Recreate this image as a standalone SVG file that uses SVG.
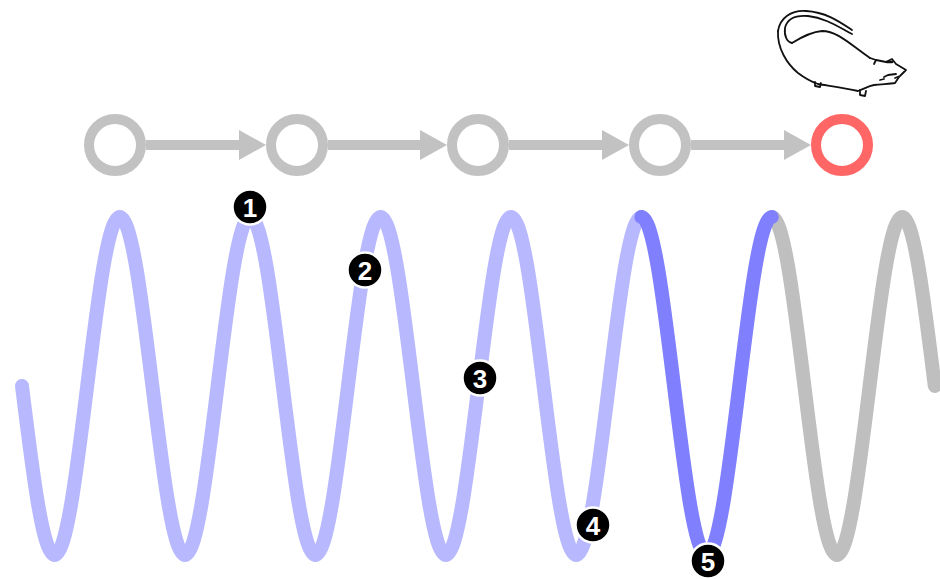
<svg xmlns="http://www.w3.org/2000/svg" width="940" height="579" viewBox="0 0 940 579">
  <style>
    .ring { fill: #ffffff; stroke: #c2c2c2; stroke-width: 10; }
    .ring.goal { stroke: #ff6666; }
    .link { stroke: #c2c2c2; stroke-width: 10; fill: none; }
    .head { fill: #c2c2c2; }
    .wave { fill: none; stroke-width: 14; stroke-linecap: round; stroke-linejoin: round; }
    .w-light { stroke: #b8b8ff; }
    .w-dark { stroke: #8080ff; }
    .w-gray { stroke: #bfbfbf; }
    .mark circle { fill: #000000; stroke: #ffffff; stroke-width: 2.5; }
    .mark text { fill: #ffffff; font-family: "Liberation Sans", Arial, sans-serif; font-weight: bold; font-size: 26px; text-anchor: middle; }
    .mouse path { fill: none; stroke: #111111; stroke-width: 1.8; stroke-linecap: round; stroke-linejoin: round; }
  </style>

  <!-- chain connectors -->
  <g id="connectors">
    <line class="link" x1="146" y1="145" x2="242" y2="145"/>
    <polygon class="head" points="266,145 239,130 239,160"/>
    <line class="link" x1="328" y1="145" x2="423" y2="145"/>
    <polygon class="head" points="447,145 420,130 420,160"/>
    <line class="link" x1="509" y1="145" x2="605" y2="145"/>
    <polygon class="head" points="629,145 602,130 602,160"/>
    <line class="link" x1="691" y1="145" x2="787" y2="145"/>
    <polygon class="head" points="811,145 784,130 784,160"/>
  </g>

  <!-- chain states -->
  <g id="state1"><circle class="ring" cx="115" cy="145" r="26"/></g>
  <g id="state2"><circle class="ring" cx="297" cy="145" r="26"/></g>
  <g id="state3"><circle class="ring" cx="478" cy="145" r="26"/></g>
  <g id="state4"><circle class="ring" cx="660" cy="145" r="26"/></g>
  <g id="state5"><circle class="ring goal" cx="842" cy="145" r="26"/></g>

  <!-- mouse sketch -->
  <g id="mouse" class="mouse">
    <!-- tail, outer line -->
    <path d="M852,30 C840,22 826,12 806,11 C791,10 780,18 778,31"/>
    <!-- tail, inner line -->
    <path d="M852,34 C840,28 826,18 808,16 C795,15 787,19 785,28 C784,36 787,42 792,43"/>
    <!-- back line -->
    <path d="M792,43 C800,38 810,32 822,31 C838,31 852,46 870,58"/>
    <!-- rump, belly and chin -->
    <path d="M778,31 C777,48 787,64 798,73 C806,79 812,82 818,84 C830,86 845,88 858,91 C864,89 868,86 874,85 C882,84 890,84 895,83 L899,77"/>
    <!-- head -->
    <path d="M870,58 L876,60 L886,62 L892,59 L896,64 L906,70 L900,76 L895,78"/>
    <path d="M876,60 L874,64"/>
    <path d="M884,77 L888,75 L896,74"/>
    <path d="M880,80 L884,79"/>
    <path d="M887,62 L892,62" style="stroke-width:2.6"/>
    <!-- feet -->
    <path d="M815,82 L815,86 L820,87 L821,83"/>
    <path d="M860,90 L860,95 L865,96 L866,91"/>
  </g>

  <!-- oscillation trace -->
  <g id="trace">
    <path class="wave w-light" d="M22,386 C32.63,472.6 42.8,555 54.6,555 S76.57,472.6 87.2,386 S108,217 119.8,217 S141.77,299.4 152.4,386 S173.2,555 185,555 S206.97,472.6 217.6,386 S238.4,217 250.2,217 S272.17,299.4 282.8,386 S303.6,555 315.4,555 S337.37,472.6 348,386 S368.8,217 380.6,217 S402.57,299.4 413.2,386 S434,555 445.8,555 S467.77,472.6 478.4,386 S499.2,217 511,217 S532.97,299.4 543.6,386 S564.4,555 576.2,555 S598.17,472.6 608.8,386 S629.6,217 641.4,217"/>
    <path class="wave w-gray" d="M771.8,217 C783.6,217 793.77,299.4 804.4,386 S825.2,555 837,555 S858.97,472.6 869.6,386 S890.4,217 902.2,217 S923.97,299.4 934.8,386"/>
    <path class="wave w-dark" d="M641.4,217 C653.2,217 663.37,299.4 674,386 S694.8,555 706.6,555 S728.57,472.6 739.2,386 S760,217 771.8,217"/>
  </g>

  <!-- numbered markers -->
  <g id="mark1" class="mark"><circle cx="250" cy="207" r="17.5"/><text x="250" y="216.5">1</text></g>
  <g id="mark2" class="mark"><circle cx="365" cy="270" r="17.5"/><text x="365" y="279.5">2</text></g>
  <g id="mark3" class="mark"><circle cx="480" cy="378" r="17.5"/><text x="480" y="387.5">3</text></g>
  <g id="mark4" class="mark"><circle cx="593" cy="525" r="17.5"/><text x="593" y="534.5">4</text></g>
  <g id="mark5" class="mark"><circle cx="708" cy="561" r="17.5"/><text x="708" y="570.5">5</text></g>
</svg>
